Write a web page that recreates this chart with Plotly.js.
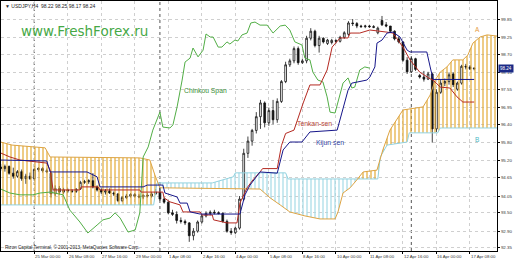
<!DOCTYPE html>
<html><head><meta charset="utf-8">
<script src="https://cdn.plot.ly/plotly-3.0.1.min.js"></script>
<style>html,body{margin:0;padding:0;background:#fff}#chart{width:520px;height:260px}</style>
</head><body><div id="chart"></div>
<script>
// ---------- data (USDJPY H4) ----------
const labelBars = [0,8,16,24,32,40,48,56,64,72,80,88,96,104,112];
const barLabels = ["21 Mar 2013","25 Mar 00:00","26 Mar 08:00","27 Mar 16:00","29 Mar 00:00","1 Apr 08:00","2 Apr 16:00","4 Apr 00:00","5 Apr 08:00","8 Apr 16:00","10 Apr 00:00","11 Apr 08:00","12 Apr 16:00","16 Apr 00:00","17 Apr 08:00"];
const priceTicks = [99.85,99.25,98.70,98.10,97.55,96.95,96.40,95.80,95.20,94.65,94.05,93.50,92.90,92.35];
const weekStartBars = [8,38,98];

const openP = [95.00,94.95,95.02,94.80,94.70,94.85,94.62,94.70,94.62,94.92, 94.95,94.88,94.80,94.12,94.30,94.18,94.25,94.22,94.20,94.28, 94.50,94.52,94.55,94.35,94.25,94.18,94.22,94.15,94.12,93.90, 94.00,94.05,94.10,94.05,94.02,94.08,94.05,94.12,94.18,93.95, 93.85,93.50,93.45,93.25,93.22,93.17,92.75,92.90,93.20,93.40, 93.48,93.52,93.50,93.48,93.22,92.90,92.85,93.00,93.95,95.45, 95.85,96.20,96.65,97.10,96.45,96.85,96.55,97.15,97.80,98.35, 98.48,98.88,98.42,98.48,99.22,99.45,98.98,99.22,99.05,99.08, 99.15,99.12,99.25,99.35,99.72,99.70,99.62,99.60,99.62,99.60, 99.40,99.80,99.66,99.62,99.45,99.20,99.10,98.50,98.12,98.55, 98.00,97.95,97.88,98.05,96.25,97.45,97.75,97.80,98.05,97.55, 97.75,98.30,98.28,98.22];
const highP = [95.10,95.08,95.05,94.98,94.90,94.92,94.78,94.82,94.98,95.00, 95.00,94.95,94.85,94.40,94.38,94.32,94.30,94.28,94.30,94.55, 94.58,94.60,94.80,94.40,94.30,94.28,94.30,94.20,94.15,94.05, 94.12,94.15,94.15,94.12,94.10,94.15,94.18,94.28,94.35,94.00, 93.88,93.60,93.55,93.35,93.28,93.20,93.00,93.25,93.45,93.55, 93.58,93.60,93.55,93.52,93.28,93.00,93.05,94.05,95.60,96.00, 96.25,96.80,97.20,97.15,96.95,97.20,97.25,97.85,98.45,98.55, 98.95,98.95,98.55,99.30,99.55,99.50,99.30,99.25,99.20,99.20, 99.18,99.30,99.45,99.78,99.85,99.75,99.66,99.66,99.66,99.65, 99.60,99.95,99.75,99.62,99.48,99.28,99.12,98.60,98.60,98.58, 98.05,98.15,98.12,98.10,97.55,97.85,97.90,98.10,98.10,97.80, 98.35,98.38,98.34,98.25];
const lowP = [94.88,94.85,94.75,94.62,94.65,94.55,94.45,94.58,94.55,94.85, 94.82,94.80,94.00,94.05,94.10,94.12,94.15,94.15,94.15,94.25, 94.45,94.45,94.30,94.20,94.12,94.10,94.12,94.05,93.85,93.85, 93.95,94.00,94.00,93.98,93.95,94.00,94.00,94.10,93.90,93.80, 93.45,93.40,93.15,93.15,93.10,92.55,92.60,92.85,93.15,93.35, 93.42,93.45,93.45,93.18,92.85,92.78,92.80,92.95,93.90,95.30, 95.70,96.10,96.25,96.30,96.35,96.40,96.45,97.10,97.75,98.28, 98.40,98.35,98.38,98.40,99.15,98.92,98.75,99.05,99.00,99.02, 99.05,99.08,99.20,99.30,99.62,99.55,99.56,99.55,99.56,99.55, 99.35,99.62,99.58,99.40,99.15,99.05,98.45,98.05,98.08,98.15, 97.90,97.80,97.85,95.80,96.15,97.40,97.65,97.70,97.62,97.50, 97.70,98.20,98.18,98.17];
const closeP = [94.95,95.02,94.80,94.70,94.85,94.62,94.70,94.62,94.92,94.95, 94.88,94.85,94.12,94.30,94.18,94.25,94.22,94.20,94.28,94.50, 94.52,94.55,94.35,94.25,94.18,94.22,94.15,94.12,93.90,94.00, 94.05,94.10,94.05,94.02,94.08,94.05,94.12,94.18,93.95,93.85, 93.50,93.45,93.25,93.22,93.17,92.75,92.90,93.20,93.40,93.48, 93.52,93.50,93.48,93.22,92.90,92.85,93.00,93.95,95.45,95.85, 96.20,96.65,97.10,96.45,96.85,96.55,97.15,97.80,98.35,98.48, 98.88,98.42,98.48,99.22,99.45,98.98,99.22,99.10,99.16,99.15, 99.12,99.25,99.40,99.72,99.70,99.62,99.60,99.62,99.60,99.58, 99.55,99.66,99.62,99.45,99.20,99.10,98.50,98.12,98.55,98.20, 97.95,97.88,98.05,96.25,97.45,97.75,97.80,98.02,97.70,97.75, 98.30,98.28,98.22,98.24];

const tenkanBar = [0,2.2,4.6,7.7,11,11.8,12.5,18.9,19.2,23.2,23.7,33.2,33.5,38.7,39,40.4,42.8,43.5,47.6,48,50.5,50.8,54,56.4,57.1,58.8,60.2,61.9,62.5,66,67,68,70,72.2,73.8,76.2,77.9,79.1,81,82.9,83.4,85.7,88.1,92.2,93.6,94.8,96,97.7,100,102.5,103.2,104.9,107.2,108.9,110.3,113];
const tenkanVal = [95.46,95.33,95.23,95.17,95.13,94.90,94.25,94.25,94.35,94.35,94.25,94.25,94.18,94.18,93.99,93.86,93.76,93.53,93.53,93.43,93.43,93.27,93.17,93.17,93.82,94.32,94.58,94.84,94.95,94.95,95.70,96.10,96.21,97.10,97.69,97.69,98.18,98.93,99.23,99.23,99.39,99.39,99.49,99.42,99.39,99.16,98.93,98.51,98.11,97.89,97.85,97.62,97.59,97.30,97.13,97.13];

const kijunBar = [0,11,11.8,20.6,23,23.7,34,35,38.7,39.2,42.1,42.8,44.5,45.2,47.6,57.1,58.3,59.5,61.9,66,67.4,69,71.9,73.8,80.3,81.5,82.9,83.8,87.4,88.1,89.3,89.8,91,92.2,93.6,95.3,97,97.7,101.7,102.5,103.2,113];
const kijunVal = [95.23,95.20,94.84,94.84,94.68,94.35,94.35,94.41,94.41,94.15,94.02,93.82,93.82,93.53,93.46,93.46,94.09,94.41,94.84,94.80,95.56,95.82,95.82,96.15,96.21,96.80,97.52,97.75,97.85,97.95,98.28,99.06,99.16,99.39,99.42,99.26,98.83,98.77,98.77,98.28,97.87,97.87];

const spanABar = [0,2.7,10.6,11.8,33.2,35.6,36.8,38,61.9,64.3,66.7,69,72.6,76.2,79.8,80.5,81.7,83.4,85,86.5,89.8,91.2,92.9,94.1,96,100.8,102.5,103.7,104.9,106.5,107.9,110.3,111.5,112.7,114.4,116.1,118.5];
const spanAVal = [95.82,95.72,95.63,95.33,95.30,95.23,94.74,94.32,94.28,93.99,93.76,93.53,93.40,93.30,93.30,93.53,94.15,94.32,94.58,94.84,94.90,95.56,96.21,96.48,96.87,96.97,97.36,97.85,98.11,98.28,98.51,98.51,98.67,99.06,99.26,99.33,99.29];

const spanBBar = [0,36.5,37.3,50.5,55.5,56,68,68.6,90,90.6,92.2,97,97.5,104.3,104.9,118.5];
const spanBVal = [93.76,93.76,94.48,94.48,94.68,94.81,94.81,94.61,94.61,95.33,95.72,95.82,96.12,96.12,96.28,96.28];

const chinkouBar = [0,2.2,4.6,7.7,9.4,11.8,14.9,16.5,18.9,20.8,23,24.4,26.1,27.3,28.5,29.7,30.4,32.1,33.2,34,35.2,36.3,38,38.7,40.4,41.1,42.1,43.3,44,45.2,45.9,47.1,48.3,49,50,50.7,51.9,52.8,54,54.7,55.9,56.6,57.6,58.8,59.7,60.7,61.9,63.6,65,66.7,67.9,69,70.2,71.9,72.6,73.8,74.5,75.7,76.9,77.9,78.6,79.8,80.5,81.7,82.9,83.8,84.5,85.7,86.9,88.1];
const chinkouVal = [94.28,94.15,94.09,94.09,94.15,94.18,94.09,93.59,93.20,92.84,93.10,93.27,93.33,93.50,93.33,93.01,92.87,92.94,93.50,95.33,95.66,96.21,96.80,96.31,96.28,96.38,96.97,97.85,98.44,98.57,98.90,98.61,98.83,99.36,99.26,99.26,98.93,98.93,99.10,99.03,99.16,99.13,99.33,99.39,99.72,99.75,99.65,99.65,99.39,99.62,99.65,99.49,99.10,99.00,98.57,98.51,98.11,97.85,97.79,97.30,96.80,96.77,97.10,97.75,97.92,97.59,97.62,98.18,98.28,98.24];

// ---------- geometry / style ----------
const W=520,H=260,ML=1,MR=23,MT=1,MB=9;
const PW=W-ML-MR, PH=H-MT-MB;
const pxX = x => (x-ML)/PW;
const pxY = y => (H-MB-y)/PH;
const GOLD='#E3AA34', BLUE='#A4DAE6';
const FONT='Liberation Sans, Arial, sans-serif';

function lin(xs, ys, x){
  if (x<=xs[0]) return ys[0];
  for (let k=0;k<xs.length-1;k++){ if (x<=xs[k+1]) { const t=(x-xs[k])/(xs[k+1]-xs[k]); return ys[k]+t*(ys[k+1]-ys[k]); } }
  return ys[ys.length-1];
}
const A = x => lin(spanABar, spanAVal, x), Bv = x => lin(spanBBar, spanBVal, x);
const brk = Array.from(new Set(spanABar.concat(spanBBar))).sort((a,b)=>a-b);
const cuts=[brk[0]];
for (let k=0;k<brk.length-1;k++){
  const x0=brk[k], x1=brk[k+1], d0=A(x0)-Bv(x0), d1=A(x1)-Bv(x1);
  if (d0*d1<0) cuts.push(x0+d0/(d0-d1)*(x1-x0));
}
cuts.push(brk[brk.length-1]);
const traces=[];
for (let c=0;c<cuts.length-1;c++){
  const a=cuts[c], b=cuts[c+1];
  const xs=[a, ...brk.filter(x=>x>a&&x<b), b];
  const ya=xs.map(A), yb=xs.map(Bv);
  const bull = A((a+b)/2) > Bv((a+b)/2);
  traces.push({type:'scatter', x: xs.concat(xs.slice().reverse()), y: ya.concat(yb.slice().reverse()),
    mode:'none', fill:'toself', fillcolor:'rgba(0,0,0,0)',
    fillpattern:{shape:'|', size:4, solidity:0.3, fgcolor: bull?GOLD:BLUE, bgcolor:'rgba(0,0,0,0)'},
    hoverinfo:'skip', showlegend:false});
}
traces.push({type:'scatter', x:spanBBar, y:spanBVal, mode:'lines', line:{color:'#92D2DF', width:1}, hoverinfo:'skip', showlegend:false});
traces.push({type:'scatter', x:spanABar, y:spanAVal, mode:'lines', line:{color:'#DDA443', width:1}, hoverinfo:'skip', showlegend:false});
const bars = closeP.map((_,k)=>k);
traces.push({type:'candlestick', x:bars, open:openP, high:highP, low:lowP, close:closeP,
  increasing:{line:{color:'#111', width:0.8}, fillcolor:'#fff'},
  decreasing:{line:{color:'#111', width:0.8}, fillcolor:'#111'},
  whiskerwidth:0, hoverinfo:'skip', showlegend:false});
traces.push({type:'scatter', x:chinkouBar, y:chinkouVal, mode:'lines', line:{color:'#52AE46', width:1}, hoverinfo:'skip', showlegend:false});
traces.push({type:'scatter', x:tenkanBar, y:tenkanVal, mode:'lines', line:{color:'#B52A22', width:1}, hoverinfo:'skip', showlegend:false});
traces.push({type:'scatter', x:kijunBar, y:kijunVal, mode:'lines', line:{color:'#16168A', width:1}, hoverinfo:'skip', showlegend:false});

const ann=[];
labelBars.forEach((b,k)=>ann.push({x:b, xref:'x', y:0, yref:'paper', yanchor:'top', xanchor:'left', yshift:-1, xshift:-1,
  text:barLabels[k], showarrow:false, font:{family:FONT, size:4.3, color:'#333'}}));
const last = closeP[closeP.length-1];
ann.push({x:1, xref:'paper', xanchor:'left', xshift:1, y:last, yref:'y', text:last.toFixed(2), showarrow:false,
  bgcolor:'#1B2A86', borderpad:1, font:{family:FONT, size:4.5, color:'#fff'}});
ann.push({x:pxX(3), y:pxY(6), xref:'paper', yref:'paper', xanchor:'left', yanchor:'middle', showarrow:false,
  text:'▼ USDJPY,H4  '+[openP[openP.length-1],highP[highP.length-1],lowP[lowP.length-1],last].map(v=>v.toFixed(2)).join(' '),
  font:{family:FONT, size:5, color:'#222'}});
ann.push({x:pxX(84), y:pxY(31), xref:'paper', yref:'paper', xanchor:'center', yanchor:'middle', showarrow:false,
  text:'www.FreshForex.ru', font:{family:'DejaVu Sans, sans-serif', size:13.5, color:'#46A846'}});
ann.push({x:pxX(205), y:pxY(91), xref:'paper', yref:'paper', xanchor:'center', yanchor:'middle', showarrow:false,
  text:'Chinkou Span', font:{family:FONT, size:6.8, color:'#3D8F3A'}});
ann.push({x:pxX(314), y:pxY(123), xref:'paper', yref:'paper', xanchor:'center', yanchor:'middle', showarrow:false,
  text:'Tenkan-sen', font:{family:FONT, size:6.8, color:'#B8453A'}});
ann.push({x:pxX(330), y:pxY(143), xref:'paper', yref:'paper', xanchor:'center', yanchor:'middle', showarrow:false,
  text:'Kijun sen', font:{family:FONT, size:6.8, color:'#3340A0'}});
ann.push({x:pxX(477), y:pxY(30), xref:'paper', yref:'paper', xanchor:'center', yanchor:'middle', showarrow:false,
  text:'A', font:{family:FONT, size:6.5, color:'#E59A3C'}});
ann.push({x:pxX(477), y:pxY(139), xref:'paper', yref:'paper', xanchor:'center', yanchor:'middle', showarrow:false,
  text:'B', font:{family:FONT, size:6.5, color:'#4DB8C4'}});
ann.push({x:pxX(3), y:pxY(247), xref:'paper', yref:'paper', xanchor:'left', yanchor:'middle', showarrow:false,
  text:'Rizon Capital Terminal, © 2001-2013, MetaQuotes Software Corp.', font:{family:FONT, size:4.6, color:'#222'}});

const shapes = weekStartBars.map(b=>({type:'line', xref:'x', yref:'paper', x0:b, x1:b, y0:0, y1:1,
  line:{color:'#555', width:1, dash:'dot'}, layer:'below'}));

const layout = {
  width:W, height:H, margin:{l:ML, r:MR, t:MT, b:MB, pad:0},
  paper_bgcolor:'#fff', plot_bgcolor:'#fff', showlegend:false, hovermode:false, boxgap:0.4,
  xaxis:{range:[0.07,118.45], tickvals:labelBars, showticklabels:false, ticks:'outside', ticklen:2, tickcolor:'#000',
    showgrid:true, gridcolor:'#CFCFCF', griddash:'dot', gridwidth:1, zeroline:false,
    showline:true, mirror:true, linecolor:'#000', linewidth:1, rangeslider:{visible:false}, fixedrange:true},
  yaxis:{range:[92.25,100.44], side:'right', tickvals:priceTicks, ticktext:priceTicks.map(v=>v.toFixed(2)),
    ticks:'outside', ticklen:2, tickcolor:'#000', tickfont:{family:FONT, size:4.4, color:'#333'},
    showgrid:true, gridcolor:'#CFCFCF', griddash:'dot', gridwidth:1, zeroline:false,
    showline:true, mirror:true, linecolor:'#000', linewidth:1, fixedrange:true},
  annotations:ann, shapes:shapes
};
Plotly.newPlot('chart', traces, layout, {staticPlot:true, displayModeBar:false});
</script></body></html>
